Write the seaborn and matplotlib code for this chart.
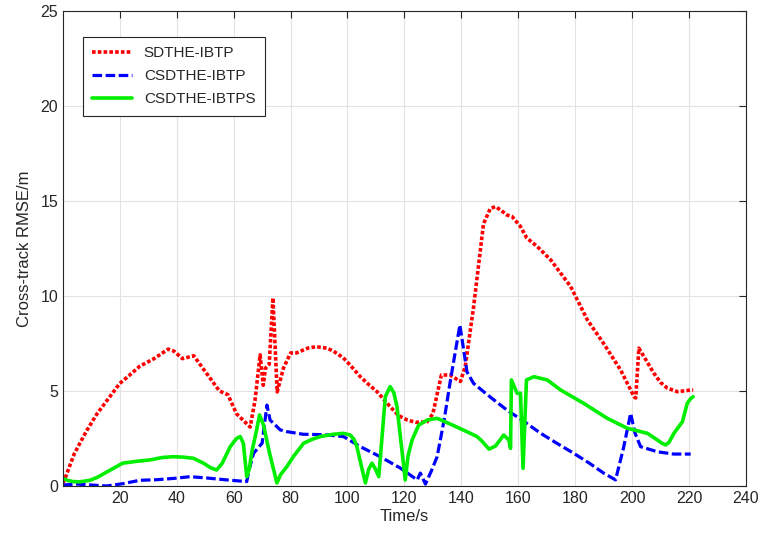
import numpy as np
import pandas as pd
import matplotlib
matplotlib.use("Agg")
import matplotlib.pyplot as plt
import seaborn as sns

# SDTHE-IBTP
t_red = [0, 1, 4, 8.3, 12, 16, 20, 22.4, 27, 32, 37, 39, 42, 46, 50.6, 55, 58, 61, 65.8, 67.5,
         69.3, 70.4, 71.2, 72.5, 73.8, 75.3, 77.5, 80, 82, 86, 89, 92.8, 95, 98.5, 101, 104.5, 107,
         110.4, 115, 118, 121, 124, 128, 130, 133, 136, 139.7, 141.4, 144.3, 147.8, 150.2, 152, 154,
         156, 157.9, 160.8, 163, 166.7, 171.4, 178.4, 184.3, 190, 196, 200.7, 201.3, 202.4, 205,
         207.6, 210, 212.4, 216, 220.6, 221.5]
y_red = [0.15, 0.5, 1.7, 2.9, 3.8, 4.6, 5.4, 5.7, 6.3, 6.7, 7.2, 7.1, 6.7, 6.85, 5.9, 5.0, 4.8, 3.8, 3.1, 4.5,
         6.9, 5.3, 6.2, 6.4, 9.9, 4.95, 6.2, 7.0, 7.0, 7.25, 7.33, 7.25, 7.1, 6.75, 6.35, 5.75, 5.4,
         4.96, 4.17, 3.7, 3.47, 3.35, 3.38, 3.8, 5.84, 5.84, 5.5, 6.3, 9.4, 13.8, 14.6, 14.7, 14.5,
         14.26, 14.17, 13.65, 13.05, 12.6, 11.9, 10.5, 8.74, 7.5, 6.1, 4.7, 4.63, 7.25, 6.6,
         5.95, 5.45, 5.15, 4.96, 5.05, 5.05]

# CSDTHE-IBTP
t_blue = [0, 5, 10, 15.4, 21, 27, 33, 39, 44.7, 50.6, 57.6, 64.6, 65.5, 67, 70, 71.7, 72.8, 76.4, 78.7,
          84.5, 92, 98.6, 104.5, 111.5, 118.6, 124.5, 125.6, 127.4, 129.5, 131.5, 134, 136.2, 139.5,
          142, 144.3, 150, 156, 162, 167.8, 173, 179.5, 185, 190, 194.2, 197, 199.5, 201, 203, 208.9,
          214.6, 220.6]
y_blue = [0.05, 0.1, 0.05, 0.0, 0.12, 0.3, 0.33, 0.4, 0.49, 0.42, 0.32, 0.23, 0.9, 1.72, 2.25, 4.26, 3.47, 2.95, 2.86,
          2.72, 2.7, 2.6, 2.07, 1.54, 0.94, 0.32, 0.68, 0.1, 0.8, 1.54, 3.5, 5.58, 8.47,
          6.0, 5.4, 4.7, 4.0, 3.4, 2.78, 2.3, 1.72, 1.2, 0.68, 0.32, 2.0, 3.82, 2.8, 2.07, 1.8,
          1.68, 1.68]

# CSDTHE-IBTPS
t_green = [0, 1.5, 3.6, 6, 9.5, 12, 15, 18, 21, 26, 30.6, 35, 38.8, 42, 45.8, 49.4, 52, 54, 56, 58.8, 61,
           62.3, 63.4, 64.6, 65.5, 66.4, 68, 69.1, 70.5, 72.5, 75.2, 76.5, 78.7, 81, 84.6, 87.5, 90.4,
           95, 98.6, 101, 102.3, 103.3, 104.8, 106.3, 107.5, 108.6, 109.8, 111, 113.3, 115, 116.3,
           117.4, 120.3, 121.3, 122.7, 125, 128, 131.5, 137, 143.2, 145.5, 147, 148.5, 149.7, 152,
           154.9, 156.7, 157.3, 157.6, 159.6, 160.8, 161.7, 162.9, 165.5, 170.2, 174.9, 183, 191.3,
           198.3, 205.4, 208.9, 210.5, 211.8, 213, 214.7, 217.7, 219.4, 220.6, 221.5]
y_green = [0.4, 0.3, 0.23, 0.22, 0.3, 0.45, 0.7, 0.95, 1.2, 1.3, 1.37, 1.5, 1.54, 1.52, 1.46, 1.2, 0.95, 0.84, 1.2,
           2.07, 2.5, 2.6, 2.25, 0.49, 0.9, 1.8, 2.9, 3.74, 3.2, 1.8, 0.16, 0.6, 1.02, 1.55, 2.25, 2.45,
           2.6, 2.72, 2.77, 2.68, 2.45, 2.07, 1.1, 0.16, 0.9, 1.2, 0.9, 0.49, 4.7, 5.23, 4.9,
           4.17, 0.32, 1.6, 2.42, 3.2, 3.47, 3.56, 3.2, 2.77, 2.6, 2.4, 2.15, 1.94, 2.1,
           2.68, 2.42, 1.98, 5.58, 4.88, 4.88, 0.93, 5.58, 5.75, 5.58, 5.05, 4.35, 3.56,
           3.04, 2.77, 2.42, 2.25, 2.16, 2.3, 2.77, 3.38, 4.35, 4.6, 4.7]

labels = ["SDTHE-IBTP", "CSDTHE-IBTP", "CSDTHE-IBTPS"]
x_ticks = list(range(20, 241, 20))
y_ticks = [0, 5, 10, 15, 20, 25]

sns.set_style("whitegrid")
plt.rcParams['font.family'] = ['Liberation Sans', 'DejaVu Sans']

fig = plt.figure(figsize=(7.58, 5.43), dpi=100)
ax = fig.add_axes([0.083, 0.105, 0.901, 0.875])

series = [(t_red, y_red, "#ff0000", (0, (1, 0.6)), 2.6),
          (t_blue, y_blue, "#0000ff", (0, (3, 1.1)), 2.3),
          (t_green, y_green, "#00ee00", "-", 2.6)]
for (t, y, c, ls, lw), lab in zip(series, labels):
    sns.lineplot(x=t, y=y, ax=ax, color=c, linewidth=lw, label=lab, sort=False,
                 estimator=None)
    ax.lines[-1].set_linestyle(ls)
    ax.lines[-1].set_solid_joinstyle("round")

ax.set_xlim(0, 240)
ax.set_ylim(0, 25)
ax.set_xticks(x_ticks)
ax.set_yticks(y_ticks)
ax.grid(True, color="#e3e3e3", linewidth=0.8)
for s in ax.spines.values():
    s.set_color("#262626")
    s.set_linewidth(0.8)
ax.tick_params(direction="in", top=True, right=True, labelsize=11.5, colors="#262626",
               length=5, width=0.8)
ax.set_xlabel("Time/s", fontsize=12, color="#262626", labelpad=2)
ax.set_ylabel("Cross-track RMSE/m", fontsize=12, color="#262626", labelpad=6)

leg = ax.legend(loc="upper left", bbox_to_anchor=(0.029, 0.945), borderaxespad=0,
                fontsize=11, frameon=True, fancybox=False, framealpha=1,
                edgecolor="#262626", handlelength=2.6, borderpad=0.6, labelspacing=0.6)
leg.get_frame().set_linewidth(0.8)

plt.savefig("out.png", dpi=100)
